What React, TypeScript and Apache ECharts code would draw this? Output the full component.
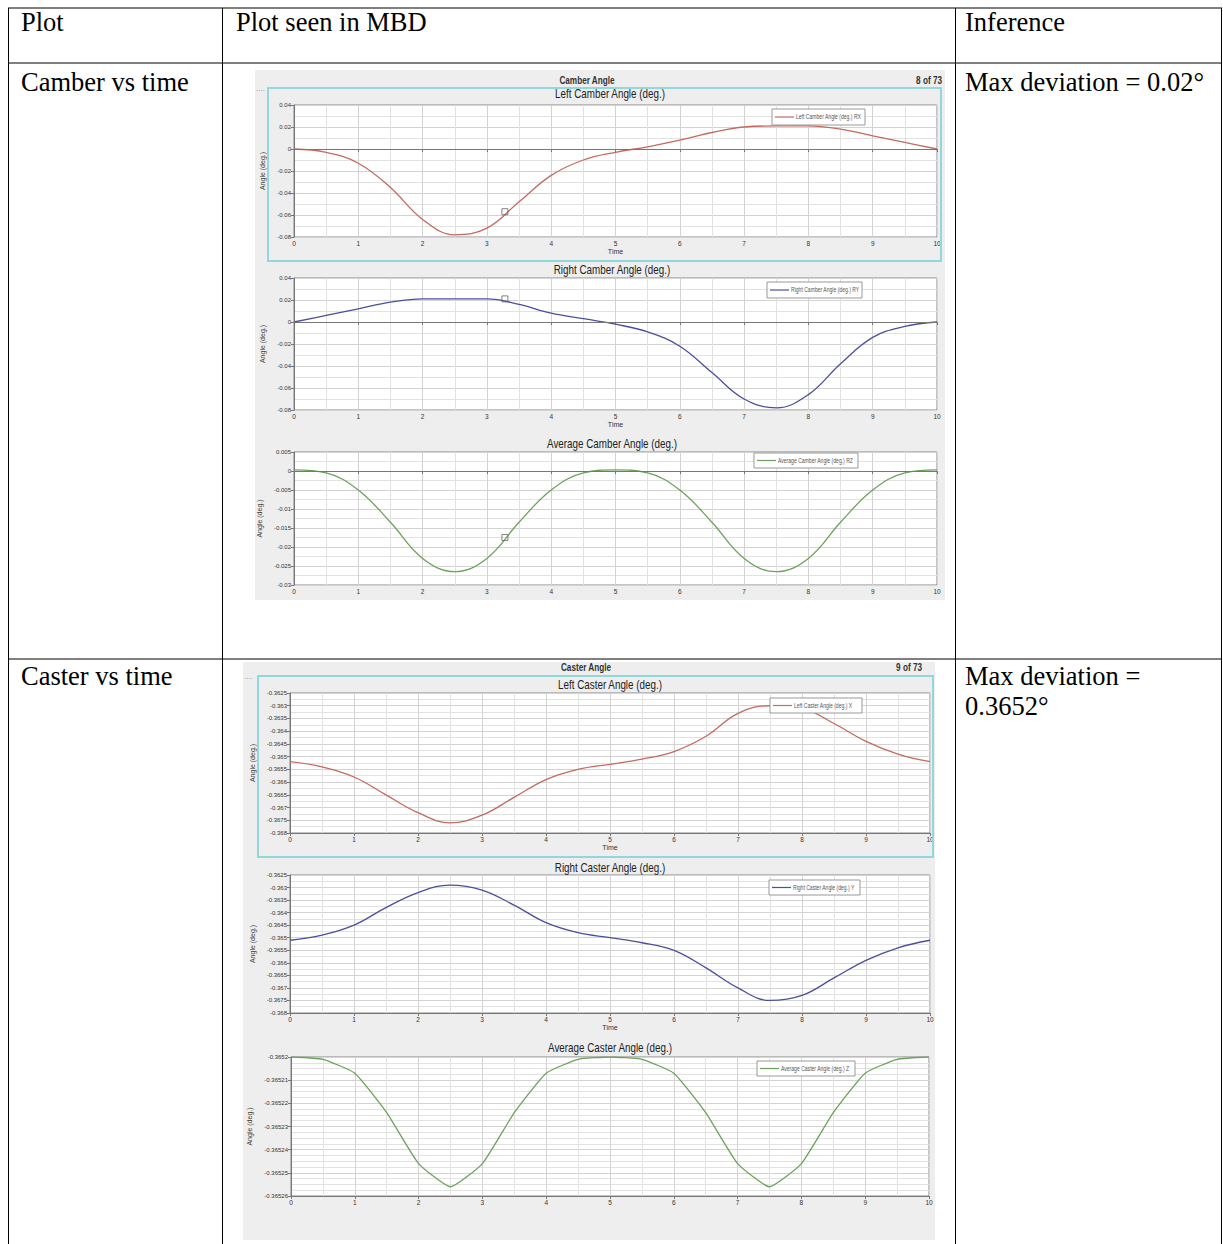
import React, { useEffect, useRef } from "react";
import * as echarts from "echarts";

// ---------- data ----------
const TIME = [0, 0.5, 1, 1.5, 2, 2.5, 3, 3.5, 4, 4.5, 5, 5.5, 6, 6.5, 7, 7.5, 8, 8.5, 9, 9.5, 10];

const LEFT_CAMBER = [0, -0.003, -0.013, -0.035, -0.064, -0.078, -0.072, -0.048, -0.024, -0.01, -0.003, 0.002, 0.008, 0.015, 0.02, 0.021, 0.021, 0.018, 0.012, 0.006, 0];
const RIGHT_CAMBER = [0, 0.006, 0.012, 0.018, 0.021, 0.021, 0.021, 0.016, 0.008, 0.003, -0.002, -0.009, -0.022, -0.046, -0.07, -0.078, -0.066, -0.038, -0.014, -0.004, 0];
const AVG_CAMBER = [0.0003, -0.0005, -0.005, -0.0135, -0.023, -0.0265, -0.023, -0.0135, -0.005, -0.0005, 0.0003, -0.0005, -0.005, -0.0135, -0.023, -0.0265, -0.023, -0.0135, -0.005, -0.0005, 0.0003];

const LEFT_CASTER = [-0.3652, -0.3654, -0.3658, -0.3665, -0.3672, -0.3676, -0.3673, -0.3666, -0.3659, -0.3655, -0.3653, -0.3651, -0.3648, -0.3642, -0.3633, -0.363, -0.3631, -0.3637, -0.3644, -0.3649, -0.3652];
const RIGHT_CASTER = [-0.3651, -0.3649, -0.3645, -0.3638, -0.3632, -0.3629, -0.3631, -0.3637, -0.3644, -0.3648, -0.365, -0.3652, -0.3655, -0.3662, -0.367, -0.3675, -0.3673, -0.3666, -0.3659, -0.3654, -0.3651];
const AVG_CASTER = [-0.3652, -0.365201, -0.365207, -0.365224, -0.365246, -0.365256, -0.365246, -0.365224, -0.365207, -0.365201, -0.3652, -0.365201, -0.365207, -0.365224, -0.365246, -0.365256, -0.365246, -0.365224, -0.365207, -0.365201, -0.3652];

const MARKER_TIME = 3.28;
const MARKER_VALUES = [-0.057, 0.021, -0.0175];

const PLOT_TITLES = [
  "Left Camber Angle (deg.)",
  "Right Camber Angle (deg.)",
  "Average Camber Angle (deg.)",
  "Left Caster Angle (deg.)",
  "Right Caster Angle (deg.)",
  "Average Caster Angle (deg.)",
];
const LEGEND_NAMES = [
  "Left Camber Angle (deg.) RX",
  "Right Camber Angle (deg.) RY",
  "Average Camber Angle (deg.) RZ",
  "Left Caster Angle (deg.) X",
  "Right Caster Angle (deg.) Y",
  "Average Caster Angle (deg.) Z",
];
const SERIES_VALUES = [LEFT_CAMBER, RIGHT_CAMBER, AVG_CAMBER, LEFT_CASTER, RIGHT_CASTER, AVG_CASTER];

// y axis ranges: [min, max, interval, decimals]
const Y_RANGES = [
  [-0.08, 0.04, 0.02, 2],
  [-0.08, 0.04, 0.02, 2],
  [-0.03, 0.005, 0.005, 3],
  [-0.368, -0.3625, 0.0005, 4],
  [-0.368, -0.3625, 0.0005, 4],
  [-0.36526, -0.3652, 0.00001, 5],
];

const TABLE_HEADERS = ["Plot", "Plot seen in MBD", "Inference"];
const ROW_LABELS = ["Camber vs time", "Caster vs time"];
const INFERENCES = [["Max deviation = 0.02°"], ["Max deviation =", "0.3652°"]];
const PAGE_TITLES = ["Camber Angle", "Caster Angle"];
const PAGE_NUMBERS = ["8 of 73", "9 of 73"];

// ---------- layout / style ----------
const W = 1223;
const H = 1244;
const GRIDS = [
  { left: 294, top: 105, width: 643, height: 132 },
  { left: 294, top: 278, width: 643, height: 132 },
  { left: 294, top: 452, width: 643, height: 133 },
  { left: 290, top: 693, width: 640, height: 140 },
  { left: 290, top: 875, width: 640, height: 138 },
  { left: 291, top: 1057, width: 638, height: 139 },
];
const COLORS = ["#c46a5e", "#4b4f9e", "#6aa35a", "#c46a5e", "#4b4f9e", "#6aa35a"];
const TITLE_Y = [94, 270, 444, 685, 868, 1048];
const TITLE_X = [610, 612, 612, 610, 610, 610];
const LEGEND_BOX = [
  [772, 109, 93, 16],
  [767, 282, 95, 16],
  [754, 453, 104, 15],
  [770, 698, 92, 15],
  [769, 880, 91, 15],
  [757, 1061, 98, 15],
];
const NAME_GAPS = [19, 19, 22, 26, 26, 29];
const MINOR_Y = [2, 2, 2, 2, 2, 4];
const SANS = "'Liberation Sans', Arial, sans-serif";
const SERIF = "'Liberation Serif', 'DejaVu Serif', serif";
const NARROW_SCALE = 0.82;
const TABLE_FONT = 26.5;

function fmt(v: number, d: number) {
  const r = Math.round(v * Math.pow(10, d)) / Math.pow(10, d);
  return (Object.is(r, -0) ? 0 : r).toString();
}

export default function App() {
  const ref = useRef<HTMLDivElement>(null);

  useEffect(() => {
    if (!ref.current) return;
    const chart = echarts.init(ref.current, undefined, { renderer: "svg" });

    const graphic: any[] = [];
    // screenshot backgrounds
    graphic.push({ type: "rect", z: -100, shape: { x: 255, y: 70, width: 690, height: 530 }, style: { fill: "#eeeeee" } });
    graphic.push({ type: "rect", z: -100, shape: { x: 243, y: 662, width: 692, height: 578 }, style: { fill: "#eeeeee" } });
    // cyan frames around first subplot
    graphic.push({ type: "rect", z: 50, shape: { x: 268, y: 88, width: 673, height: 173 }, style: { fill: "none", stroke: "#92d7db", lineWidth: 2 } });
    graphic.push({ type: "rect", z: 50, shape: { x: 258, y: 676, width: 675, height: 181 }, style: { fill: "none", stroke: "#92d7db", lineWidth: 2 } });
    graphic.push({ type: "text", x: 256, y: 84, style: { text: "....", fontSize: 8, fill: "#888", fontFamily: SANS } });
    graphic.push({ type: "text", x: 244, y: 672, style: { text: "....", fontSize: 8, fill: "#888", fontFamily: SANS } });

    // page titles
    const pageY = [81, 668];
    const pageX = [587, 586];
    const pageNumX = [942, 922];
    for (let i = 0; i < 2; i++) {
      graphic.push({ type: "text", x: pageX[i], y: pageY[i], scaleX: NARROW_SCALE, style: { text: PAGE_TITLES[i], fontSize: 10, fontWeight: "bold", fill: "#333", fontFamily: SANS, align: "center", verticalAlign: "middle" } });
      graphic.push({ type: "text", x: pageNumX[i], y: pageY[i], scaleX: NARROW_SCALE, style: { text: PAGE_NUMBERS[i], fontSize: 10, fontWeight: "bold", fill: "#333", fontFamily: SANS, align: "right", verticalAlign: "middle" } });
    }

    // subplot titles and legends
    for (let i = 0; i < 6; i++) {
      graphic.push({ type: "text", x: TITLE_X[i], y: TITLE_Y[i], scaleX: NARROW_SCALE, style: { text: PLOT_TITLES[i], fontSize: 12, fill: "#222", fontFamily: SANS, align: "center", verticalAlign: "middle" } });
      const [bx, by, bw, bh] = LEGEND_BOX[i];
      graphic.push({ type: "rect", z: 60, shape: { x: bx, y: by, width: bw, height: bh }, style: { fill: "#fff", stroke: "#999", lineWidth: 1 } });
      graphic.push({ type: "line", z: 61, shape: { x1: bx + 3, y1: by + bh / 2, x2: bx + 22, y2: by + bh / 2 }, style: { stroke: COLORS[i], lineWidth: 1.2 } });
      graphic.push({ type: "text", z: 61, x: bx + 24, y: by + bh / 2, scaleX: 0.78, style: { text: LEGEND_NAMES[i], fontSize: 6.5, fill: "#555", fontFamily: SANS, align: "left", verticalAlign: "middle" } });
    }

    // table lines
    const lines = [
      [8, 8, 1222, 8],
      [8, 63, 1222, 63],
      [8, 659, 1222, 659],
      [8.5, 8, 8.5, 1244],
      [222.5, 8, 222.5, 1244],
      [955.5, 8, 955.5, 1244],
      [1221.5, 8, 1221.5, 1244],
    ];
    lines.forEach(([x1, y1, x2, y2]) =>
      graphic.push({ type: "line", z: 80, shape: { x1, y1, x2, y2 }, style: { stroke: "#000", lineWidth: 1 } })
    );
    // table texts
    const headerX = [21, 236, 965];
    TABLE_HEADERS.forEach((t, i) =>
      graphic.push({ type: "text", x: headerX[i], y: 22, style: { text: t, fontSize: TABLE_FONT, fill: "#000", fontFamily: SERIF, align: "left", verticalAlign: "middle" } })
    );
    const rowY = [82, 676];
    ROW_LABELS.forEach((t, i) =>
      graphic.push({ type: "text", x: 21, y: rowY[i], style: { text: t, fontSize: TABLE_FONT, fill: "#000", fontFamily: SERIF, align: "left", verticalAlign: "middle" } })
    );
    INFERENCES.forEach((ls, i) =>
      ls.forEach((t, j) =>
        graphic.push({ type: "text", x: 965, y: rowY[i] + j * 30, style: { text: t, fontSize: TABLE_FONT, fill: "#000", fontFamily: SERIF, align: "left", verticalAlign: "middle" } })
      )
    );

    const xAxis = GRIDS.map((_, i) => ({
      type: "value",
      gridIndex: i,
      min: 0,
      max: 10,
      interval: 1,
      name: i === 2 || i === 5 ? "" : "Time",
      nameLocation: "middle",
      nameGap: 11,
      nameTextStyle: { fontSize: 7, color: "#333", fontFamily: SANS },
      axisLine: { show: true, lineStyle: { color: "#777" } },
      axisTick: { show: true, length: 3, lineStyle: { color: "#777" } },
      axisLabel: { fontSize: 6.5, color: "#333", margin: 3, fontFamily: SANS },
      splitLine: { show: true, lineStyle: { color: "#d3d3d3", width: 1 } },
      minorTick: { show: false, splitNumber: 2 },
      minorSplitLine: { show: true, lineStyle: { color: "#e2e2e2", width: 1 } },
    }));

    const yAxis = GRIDS.map((_, i) => {
      const [mn, mx, iv, d] = Y_RANGES[i];
      return {
        type: "value",
        gridIndex: i,
        min: mn,
        max: mx,
        interval: iv,
        name: "Angle (deg.)",
        nameLocation: "middle",
        nameGap: NAME_GAPS[i],
        nameRotate: 90,
        nameTextStyle: { fontSize: 7, color: "#444", fontFamily: SANS },
        axisLine: { show: true, lineStyle: { color: "#777" } },
        axisTick: { show: true, length: 3, lineStyle: { color: "#777" } },
        axisLabel: { fontSize: 6, color: "#333", margin: 3, fontFamily: SANS, formatter: (v: number) => fmt(v, d) },
        splitLine: { show: true, lineStyle: { color: "#d3d3d3", width: 1 } },
        minorTick: { show: false, splitNumber: MINOR_Y[i] },
        minorSplitLine: { show: true, lineStyle: { color: "#e2e2e2", width: 1 } },
      };
    });

    const series: any[] = SERIES_VALUES.map((vals, i) => ({
      type: "line",
      name: LEGEND_NAMES[i],
      xAxisIndex: i,
      yAxisIndex: i,
      data: TIME.map((t, j) => [t, vals[j]]),
      showSymbol: false,
      smooth: i === 5 ? 0.15 : 0.4,
      lineStyle: { color: COLORS[i], width: 1.3 },
      itemStyle: { color: COLORS[i] },
      z: 3,
      markLine:
        i < 3
          ? {
              silent: true,
              symbol: "none",
              label: { show: false },
              lineStyle: { color: "#777", width: 1, type: "solid" },
              data: [{ yAxis: 0 }],
            }
          : undefined,
    }));
    MARKER_VALUES.forEach((v, i) =>
      series.push({
        type: "scatter",
        xAxisIndex: i,
        yAxisIndex: i,
        data: [[MARKER_TIME, v]],
        symbol: "rect",
        symbolSize: 6,
        itemStyle: { color: "rgba(255,255,255,0)", borderColor: "#666", borderWidth: 1 },
        z: 5,
      })
    );

    chart.setOption({
      animation: false,
      backgroundColor: "#fff",
      grid: GRIDS.map((g) => ({ ...g, show: true, backgroundColor: "#fff", borderColor: "#888", borderWidth: 1, containLabel: false })),
      xAxis,
      yAxis,
      series,
      graphic: { elements: graphic },
    });

    return () => chart.dispose();
  }, []);

  return <div ref={ref} style={{ position: "absolute", left: 0, top: 0, width: W, height: H }} />;
}
